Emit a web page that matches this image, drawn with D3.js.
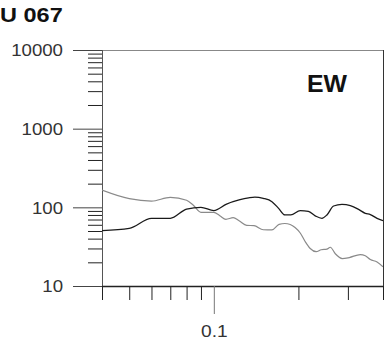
<!DOCTYPE html>
<html>
<head>
<meta charset="utf-8">
<script src="https://cdn.jsdelivr.net/npm/d3@7/dist/d3.min.js"></script>
<style>
  html, body { margin: 0; padding: 0; background: #fff; }
  svg { display: block; font-family: "Liberation Sans", Arial, Helvetica, sans-serif; }
</style>
</head>
<body>
<svg id="chart" width="385" height="342"></svg>
<script>
// Station and component
const stationLabel = "U 067";
const componentLabel = "EW";

// Frequency axis ticks
const xMajorTicks = [0.1];
const xMinorTicks = [0.04, 0.05, 0.06, 0.07, 0.08, 0.09, 0.2, 0.3, 0.4];
const xTickLabels = ["0.1"];

// Amplitude axis ticks
const yMajorTicks = [10, 100, 1000, 10000];
const yTickLabels = ["10", "100", "1000", "10000"];

// Dark trace
const darkFreq = [0.04, 0.05, 0.06, 0.07, 0.08, 0.09, 0.10, 0.111, 0.123, 0.133,
                  0.140, 0.150, 0.161, 0.170, 0.179, 0.188, 0.203, 0.217, 0.2295, 0.2425,
                  0.2526, 0.2668, 0.2858, 0.306, 0.3276, 0.346, 0.3606, 0.381, 0.40];
const darkAmp  = [50.5, 54, 72.5, 72.5, 95, 100, 91, 110, 124, 132,
                  135, 130, 118, 97, 80, 80, 91, 89, 78, 72.5,
                  80, 104, 109, 105, 94, 84, 81, 72.5, 67.6];

// Light trace
const lightFreq = [0.04, 0.05, 0.06, 0.07, 0.08, 0.0844, 0.09, 0.10, 0.105, 0.1104,
                   0.1172, 0.123, 0.1309, 0.139, 0.150, 0.161, 0.1707, 0.179, 0.187, 0.1946,
                   0.203, 0.2113, 0.2203, 0.2313, 0.241, 0.2526, 0.2597, 0.2706, 0.2866, 0.3035,
                   0.332, 0.346, 0.3606, 0.381, 0.40];
const lightAmp  = [166, 129, 120, 134, 123, 107, 86.5, 86.5, 78.3, 70.5,
                   73.8, 67.6, 59.1, 58.4, 51.9, 51.6, 60.8, 62.3, 60.5, 55.4,
                   47.2, 36.8, 30, 27.3, 28.9, 29.4, 31.1, 25.7, 22.3, 23,
                   25.1, 24.2, 21.7, 20.2, 17.6];

const svg = d3.select("#chart");
const plotLeft = 102, plotRight = 383, plotTop = 50, plotBottom = 286;
const textStretch = 1.13;

const x = d3.scaleLog().domain([0.04, 0.4]).range([plotLeft, plotRight]);
const y = d3.scaleLog().domain([10, 10000]).range([plotBottom, plotTop]);

// minor amplitude ticks: 2..9 in each decade
const yMinorTicks = [];
for (let dec = 10; dec < 10000; dec *= 10) {
  for (let k = 2; k <= 9; k++) yMinorTicks.push(dec * k);
}

// clip region for traces
svg.append("defs").append("clipPath").attr("id", "plotClip")
  .append("rect").attr("x", plotLeft).attr("y", plotTop)
  .attr("width", plotRight - plotLeft).attr("height", plotBottom - plotTop);

// frame: top and right borders
svg.append("line").attr("x1", plotLeft).attr("x2", plotRight)
  .attr("y1", plotTop + 0.5).attr("y2", plotTop + 0.5)
  .attr("stroke", "#888").attr("stroke-width", 1);
svg.append("line").attr("x1", plotRight + 0.5).attr("x2", plotRight + 0.5)
  .attr("y1", plotTop).attr("y2", plotBottom)
  .attr("stroke", "#333").attr("stroke-width", 1);

// y axis minor ticks
svg.append("g").attr("transform", `translate(${plotLeft},0)`)
  .call(d3.axisLeft(y).tickValues(yMinorTicks).tickSize(14).tickFormat(""))
  .call(g => g.select(".domain").remove())
  .call(g => g.selectAll("line").attr("stroke", "#222"));

// y axis major ticks with labels
const yAxisMajor = svg.append("g").attr("transform", `translate(${plotLeft},0)`)
  .call(d3.axisLeft(y).tickValues(yMajorTicks).tickSize(29).tickPadding(10)
    .tickFormat((d, i) => yTickLabels[i]));
yAxisMajor.select(".domain").attr("stroke", "#555").attr("d", `M0.5,${plotTop}V${plotBottom}`);
yAxisMajor.selectAll("line").attr("stroke", "#444");
yAxisMajor.selectAll("text")
  .attr("x", 0)
  .attr("transform", `translate(-39,0.5) scale(${textStretch},1)`)
  .attr("font-size", 16.5).attr("font-weight", 400).attr("fill", "#333")
  .attr("font-family", "Liberation Sans, Arial, sans-serif");

// x axis minor ticks
svg.append("g").attr("transform", `translate(0,${plotBottom})`)
  .call(d3.axisBottom(x).tickValues(xMinorTicks).tickSize(14).tickFormat(""))
  .call(g => g.select(".domain").remove())
  .call(g => g.selectAll("line").attr("stroke", "#222"));

// x axis major tick with label
const xAxisMajor = svg.append("g").attr("transform", `translate(0,${plotBottom})`)
  .call(d3.axisBottom(x).tickValues(xMajorTicks).tickSize(28).tickPadding(10)
    .tickFormat((d, i) => xTickLabels[i]));
xAxisMajor.select(".domain").attr("stroke", "#222").attr("stroke-width", 1.3)
  .attr("d", `M${plotLeft},0.5H${plotRight}`);
xAxisMajor.selectAll("line").attr("stroke", "#777");
xAxisMajor.selectAll("text")
  .attr("y", 0).attr("dy", 0)
  .attr("transform", `translate(0,51) scale(${textStretch},1)`)
  .attr("font-size", 17).attr("font-weight", 400).attr("fill", "#333")
  .attr("font-family", "Liberation Sans, Arial, sans-serif");

// traces
const line = d3.line().curve(d3.curveMonotoneX)
  .x(d => x(d[0])).y(d => y(d[1]));

const plot = svg.append("g").attr("clip-path", "url(#plotClip)");
plot.append("path")
  .datum(lightFreq.map((f, i) => [f, lightAmp[i]]))
  .attr("d", line).attr("fill", "none")
  .attr("stroke", "#8a8a8a").attr("stroke-width", 1.2);
plot.append("path")
  .datum(darkFreq.map((f, i) => [f, darkAmp[i]]))
  .attr("d", line).attr("fill", "none")
  .attr("stroke", "#1a1a1a").attr("stroke-width", 1.3);

// station title
svg.append("text")
  .attr("transform", `translate(0,22) scale(1.12,1)`)
  .attr("font-size", 21).attr("font-weight", "bold").attr("fill", "#111")
  .text(stationLabel);

// component label
svg.append("text")
  .attr("transform", `translate(327,91.5) scale(1.08,1)`)
  .attr("text-anchor", "middle")
  .attr("font-size", 23).attr("font-weight", "bold").attr("fill", "#111")
  .text(componentLabel);
</script>
</body>
</html>
